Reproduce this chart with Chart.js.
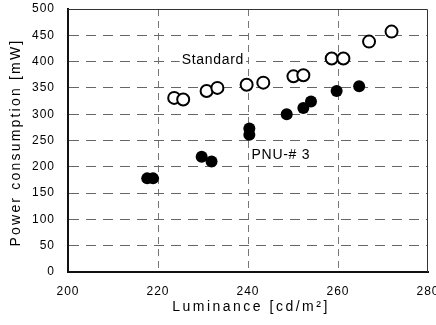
<!DOCTYPE html>
<html lang="en">
<head>
    <meta charset="UTF-8">
    <title>Power consumption vs Luminance</title>
    <script src="https://cdn.jsdelivr.net/npm/chart.js"></script>
    <style>
        body {
            margin: 0;
            background: #fff;
        }
        #wrap {
            width: 436px;
            height: 325px;
        }
    </style>
</head>
<body>
    <div id="wrap">
        <canvas id="chart" width="436" height="325"></canvas>
    </div>

    <script>
        // Standard device (open circles)
        const stdX = [223.6, 225.6, 230.8, 233.2, 239.7, 243.4, 250.1, 252.3, 258.6, 261.2, 266.9, 271.9];
        const stdY = [331, 328, 344, 350, 356, 360, 372, 374, 406, 406, 438, 457];

        // PNU-#3 device (filled circles)
        const pnuX = [217.6, 218.9, 229.7, 231.9, 240.3, 240.3, 248.6, 252.3, 254.0, 259.7, 264.7];
        const pnuY = [178, 178, 219, 210, 273, 261, 300, 312, 324, 344, 353];

        const xTicks = [200, 220, 240, 260, 280];
        const yTicks = [0, 50, 100, 150, 200, 250, 300, 350, 400, 450, 500];

        // text labels placed in data space
        const labels = [
            { text: 'Standard', x: 232.2, y: 403 },
            { text: 'PNU-# 3', x: 247.3, y: 222 }
        ];

        const xTitle = 'Luminance [cd/m²]';
        const yTitle = 'Power consumption [mW]';

        const FONT = "'Liberation Sans', Arial, sans-serif";

        const toPoints = (xs, ys) => xs.map((x, i) => ({ x: x, y: ys[i] }));

        // Frame, titles and in-plot labels
        const decorPlugin = {
            id: 'decor',
            beforeDraw(chart) {
                chart.ctx.letterSpacing = '1px';
            },
            beforeDatasetsDraw(chart) {
                const { ctx, scales } = chart;
                ctx.save();
                ctx.letterSpacing = '0.7px';
                ctx.font = '14px ' + FONT;
                ctx.textAlign = 'center';
                ctx.textBaseline = 'middle';
                labels.forEach(l => {
                    const px = scales.x.getPixelForValue(l.x);
                    const py = scales.y.getPixelForValue(l.y);
                    const w = ctx.measureText(l.text).width;
                    ctx.fillStyle = '#fff';
                    ctx.fillRect(px - w / 2 - 2, py - 8, w + 4, 16);
                    ctx.fillStyle = '#000';
                    ctx.fillText(l.text, px, py);
                });
                ctx.restore();
            },
            afterDraw(chart) {
                const { ctx, chartArea: a } = chart;
                ctx.save();
                // top and right edges of the frame
                ctx.strokeStyle = '#333';
                ctx.lineWidth = 1;
                ctx.beginPath();
                ctx.moveTo(a.left, a.top + 0.5);
                ctx.lineTo(a.right - 0.5, a.top + 0.5);
                ctx.lineTo(a.right - 0.5, a.bottom);
                ctx.stroke();

                ctx.fillStyle = '#000';
                ctx.textAlign = 'center';
                ctx.textBaseline = 'middle';
                ctx.font = '14px ' + FONT;
                ctx.letterSpacing = '2.5px';
                ctx.fillText(xTitle, (a.left + a.right) / 2 + 3, 307);

                ctx.translate(16, (a.top + a.bottom) / 2 + 2);
                ctx.rotate(-Math.PI / 2);
                ctx.letterSpacing = '2.2px';
                ctx.fillText(yTitle, 0, 0);
                ctx.restore();
                ctx.letterSpacing = '0px';
            }
        };

        const edgeHidden = (lo, hi, color) => (c) =>
            (c.tick && (c.tick.value === lo || c.tick.value === hi)) ? 'rgba(0,0,0,0)' : color;

        new Chart(document.getElementById('chart'), {
            type: 'scatter',
            data: {
                datasets: [
                    {
                        label: 'Standard',
                        data: toPoints(stdX, stdY),
                        pointStyle: 'circle',
                        pointRadius: 6,
                        pointBorderWidth: 2,
                        pointBorderColor: '#000',
                        pointBackgroundColor: '#fff'
                    },
                    {
                        label: 'PNU-#3',
                        data: toPoints(pnuX, pnuY),
                        pointStyle: 'circle',
                        pointRadius: 6,
                        pointBorderWidth: 0,
                        pointBackgroundColor: '#000'
                    }
                ]
            },
            options: {
                responsive: false,
                animation: false,
                events: [],
                layout: { padding: { top: 9, right: 8, left: 0, bottom: 0 } },
                plugins: {
                    legend: { display: false },
                    tooltip: { enabled: false }
                },
                scales: {
                    x: {
                        type: 'linear',
                        min: 200,
                        max: 280,
                        afterBuildTicks: s => { s.ticks = xTicks.map(v => ({ value: v })); },
                        afterFit: s => { s.height = 53; s.paddingLeft = 0; s.paddingRight = 0; },
                        ticks: {
                            padding: 12,
                            color: '#000',
                            font: { family: FONT, size: 12 }
                        },
                        grid: {
                            drawTicks: false,
                            lineWidth: 1,
                            color: edgeHidden(200, 280, '#777')
                        },
                        border: { display: true, color: '#111', width: 2, dash: [7, 5] }
                    },
                    y: {
                        type: 'linear',
                        min: 0,
                        max: 500,
                        afterBuildTicks: s => { s.ticks = yTicks.map(v => ({ value: v })); },
                        afterFit: s => { s.width = 68; s.paddingTop = 0; s.paddingBottom = 0; },
                        ticks: {
                            padding: 13,
                            color: '#000',
                            font: { family: FONT, size: 12 }
                        },
                        grid: {
                            drawTicks: false,
                            lineWidth: 1,
                            color: edgeHidden(0, 500, '#666')
                        },
                        border: { display: true, color: '#111', width: 2, dash: [10, 7] }
                    }
                }
            },
            plugins: [decorPlugin]
        });
    </script>
</body>
</html>
